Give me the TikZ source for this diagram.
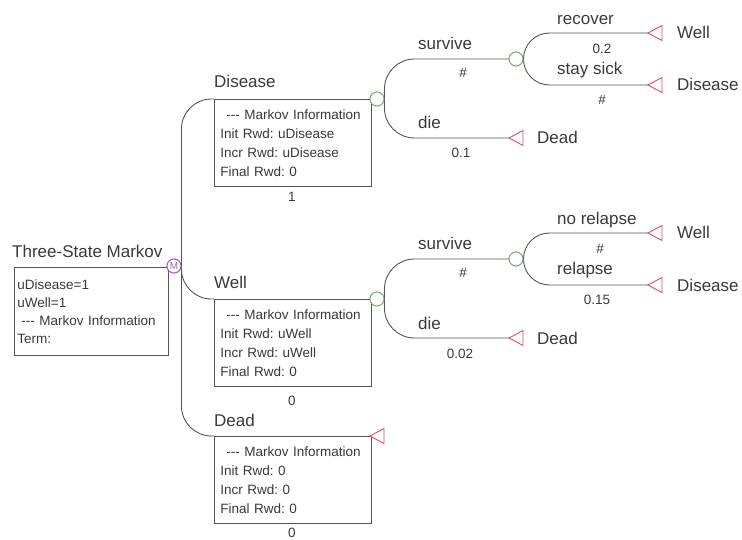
\documentclass[tikz,border=0pt]{standalone}
\usepackage{fontspec}
\setmainfont{Liberation Sans}
\definecolor{ln}{HTML}{555555}
\definecolor{tx}{HTML}{3A3A3A}
\definecolor{chg}{HTML}{78AD78}
\definecolor{trm}{HTML}{D9505E}
\definecolor{mkv}{HTML}{A85BBE}
\newcommand\lbfont{\fontsize{17}{19}\selectfont}
\newcommand\smfont{\fontsize{13.5}{19}\selectfont}
\newcommand\mkdash{-{}-{}-}
\newcommand\termtri[1]{\draw[draw=trm, line width=0.9pt, fill=white] (#1) -- ++(14,-7.5) -- ++(0,15) -- cycle;}
\frenchspacing
\begin{document}
\begin{tikzpicture}[x=1pt,y=-1pt,
  br/.style={draw=ln, line width=0.9pt},
  chance/.style={circle, draw=chg, line width=0.9pt, fill=white, minimum size=14pt, inner sep=0pt},
  markov/.style={circle, draw=mkv, line width=0.9pt, fill=white, minimum size=14pt, inner sep=0pt, text=mkv, font=\fontsize{10}{10}\selectfont},
  infobox/.style={draw=ln, line width=0.9pt, rectangle, anchor=north west, minimum width=157pt, minimum height=87pt, text width=145pt, inner xsep=6pt, inner ysep=0pt, align=left, text=tx, font=\smfont},
  lbl/.style={anchor=base west, text=tx, font=\lbfont, inner sep=0pt},
  prob/.style={anchor=base, text=tx, font=\smfont, inner sep=0pt},
]
\useasboundingbox (0,0) rectangle (742,540);
\fill[white] (0,0) rectangle (742,540);

% ---------- root ----------
\node[lbl] (title) at (12,258) {Three-State Markov};
\node[infobox, minimum width=154pt, text width=148pt, inner xsep=3pt, minimum height=88pt, font=\fontsize{13.5}{18}\selectfont] (rootbox) at (14,267)
  {uDisease=1\\uWell=1\\\hspace{4pt}\mkdash{} Markov Information\\Term:};

% ---------- state boxes ----------
\node[infobox] (dbox) at (214,99)
  {\hspace{6pt}\mkdash{} Markov Information\\Init Rwd: uDisease\\Incr Rwd: uDisease\\Final Rwd: 0};
\node[infobox] (wbox) at (214,299)
  {\hspace{6pt}\mkdash{} Markov Information\\Init Rwd: uWell\\Incr Rwd: uWell\\Final Rwd: 0};
\node[infobox] (xbox) at (214,436)
  {\hspace{6pt}\mkdash{} Markov Information\\Init Rwd: 0\\Incr Rwd: 0\\Final Rwd: 0};

\node[lbl] (dlab) at (214,88) {Disease};
\node[lbl] (wlab) at (214,289) {Well};
\node[lbl] (xlab) at (214,426) {Dead};
\node[prob] (dp) at (292,202) {1};
\node[prob] (wp) at (292,405) {0};
\node[prob] (xp) at (292,537) {0};

% ---------- nodes ----------
\node[markov] (mk) at (174,266) {M};
\node[chance] (d1) at (377,99) {};
\node[chance] (w1) at (377,299) {};
\node[chance] (d2) at (516,59) {};
\node[chance] (w2) at (516,259) {};

\coordinate (xt) at (370,436);
\coordinate (ddie) at (509,138);
\coordinate (drec) at (648,33);
\coordinate (dsick) at (648,85);
\coordinate (wdie) at (509,338);
\coordinate (wnor) at (648,233);
\coordinate (wrel) at (648,285);

% ---------- branches from Markov node ----------
\draw[br, rounded corners=30pt] (mk.east) |- (dbox.north west);
\draw[br, rounded corners=30pt] (mk.east) |- (wbox.north west);
\draw[br, rounded corners=30pt] (mk.east) |- (xbox.north west);
\draw[br] (dbox.north east) -- (d1.west);
\draw[br] (wbox.north east) -- (w1.west);
\draw[br] (xbox.north east) -- (xt);

% ---------- Disease subtree ----------
\draw[br, rounded corners=30pt] (d1.east) |- (d2.west);
\draw[br, rounded corners=30pt] (d1.east) |- (ddie);
\draw[br, rounded corners=26pt] (d2.east) |- (drec);
\draw[br, rounded corners=26pt] (d2.east) |- (dsick);

% ---------- Well subtree ----------
\draw[br, rounded corners=30pt] (w1.east) |- (w2.west);
\draw[br, rounded corners=30pt] (w1.east) |- (wdie);
\draw[br, rounded corners=26pt] (w2.east) |- (wnor);
\draw[br, rounded corners=26pt] (w2.east) |- (wrel);

% redraw nodes on top of the connectors
\node[chance] at (d1) {};
\node[chance] at (w1) {};
\node[chance] at (d2) {};
\node[chance] at (w2) {};
\node[markov] at (mk) {M};

% ---------- terminals ----------
\termtri{xt}
\termtri{ddie}
\termtri{drec}
\termtri{dsick}
\termtri{wdie}
\termtri{wnor}
\termtri{wrel}

\node[lbl] (tdd) at (537,144) {Dead};
\node[lbl] (tdr) at (677,39) {Well};
\node[lbl] (tds) at (677,91) {Disease};
\node[lbl] (twd) at (537,344) {Dead};
\node[lbl] (twn) at (677,239) {Well};
\node[lbl] (twr) at (677,291) {Disease};

% ---------- branch labels ----------
\node[lbl] (ls1) at (418,50) {survive};
\node[prob] (ps1) at (463,78) {\#};
\node[lbl] (ld1) at (418,129) {die};
\node[prob] (pd1) at (461,158) {0.1};
\node[lbl] (lr1) at (557,25) {recover};
\node[prob] (pr1) at (602,54) {0.2};
\node[lbl] (lk1) at (557,75) {stay sick};
\node[prob] (pk1) at (602,105) {\#};

\node[lbl] (ls2) at (418,250) {survive};
\node[prob] (ps2) at (463,278) {\#};
\node[lbl] (ld2) at (418,329) {die};
\node[prob] (pd2) at (460,358) {0.02};
\node[lbl] (lr2) at (557,225) {no relapse};
\node[prob] (pr2) at (600,254) {\#};
\node[lbl] (lk2) at (557,275) {relapse};
\node[prob] (pk2) at (597,305) {0.15};
\end{tikzpicture}
\end{document}
